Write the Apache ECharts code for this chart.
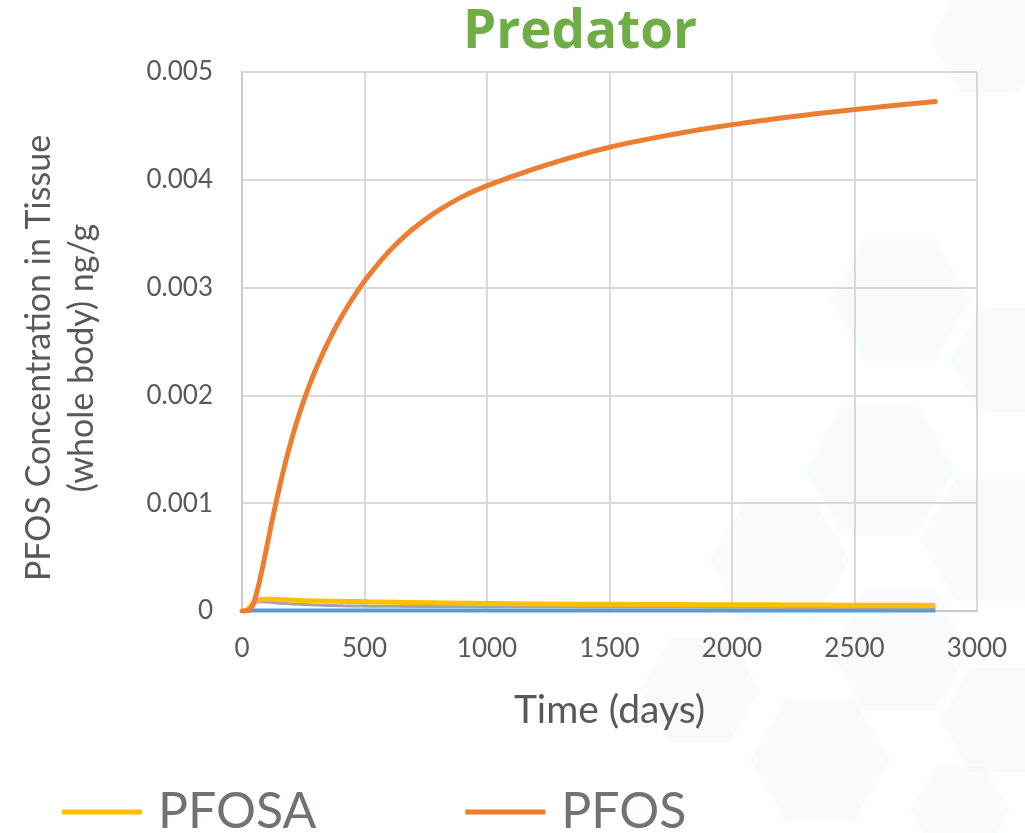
<!DOCTYPE html>
<html>
<head>
<meta charset="utf-8">
<script src="https://cdn.jsdelivr.net/npm/echarts@6/dist/echarts.min.js"></script>
<style>
html,body{margin:0;padding:0;background:#fff;}
#chart{width:1025px;height:833px;}
</style>
</head>
<body>
<div id="chart"></div>
<script>
// ---- data ----
const days = [0, 10, 20, 30, 40, 50, 60, 73, 90, 107, 120, 134, 155, 176, 196, 216, 236, 256, 283, 310, 344, 378, 411, 445, 481, 500, 520, 580, 637, 700, 794, 900, 1001, 1100, 1184, 1300, 1400, 1500, 1620, 1731, 1860, 2002, 2140, 2278, 2390, 2502, 2660, 2830];
const pfos = [0, 0, 0.000004, 0.000012, 0.000035, 0.00009, 0.00017, 0.00029, 0.00047, 0.00066, 0.000805, 0.000956, 0.00117, 0.001367, 0.001539, 0.001697, 0.001843, 0.001977, 0.002142, 0.00229, 0.00246, 0.002613, 0.002748, 0.002876, 0.003, 0.00306, 0.00312, 0.003285, 0.00342, 0.003548, 0.003705, 0.003844, 0.003946, 0.004029, 0.004095, 0.004178, 0.004243, 0.004302, 0.004361, 0.00441, 0.004462, 0.004512, 0.004555, 0.004595, 0.004625, 0.004652, 0.00469, 0.004727];
const pfosa = [0, 0.000002, 0.00001, 0.00003, 0.00006, 0.00008, 0.000095, 0.000105, 0.00011, 0.00011, 0.000109, 0.000108, 0.000106, 0.000104, 0.000102, 0.0001, 0.000098, 0.000096, 0.000094, 0.000093, 0.000091, 0.00009, 0.000089, 0.000088, 0.000087, 0.000086, 0.000085, 0.000083, 0.000081, 0.000079, 0.000076, 0.000073, 0.00007, 0.000068, 0.000066, 0.000064, 0.000063, 0.000062, 0.000061, 0.00006, 0.000059, 0.000058, 0.000057, 0.000056, 0.000055, 0.000054, 0.000053, 0.000052];
const other1 = [0, 0.000001, 0.000008, 0.000025, 0.00005, 0.00007, 0.00008, 0.000085, 0.000085, 0.000082, 0.00008, 0.000077, 0.000073, 0.00007, 0.000067, 0.000064, 0.000062, 0.00006, 0.000057, 0.000055, 0.000052, 0.00005, 0.000048, 0.000047, 0.000046, 0.0000455, 0.000045, 0.000044, 0.000043, 0.000042, 0.000041, 0.000041, 0.00004, 0.00004, 0.000039, 0.000039, 0.000038, 0.000038, 0.000037, 0.000037, 0.000036, 0.000035, 0.000034, 0.000033, 0.000032, 0.000032, 0.000031, 0.00003];
const other2 = [0, 0.000001, 0.000002, 0.000003, 0.000004, 0.000004, 0.000004, 0.000004, 0.000004, 0.000004, 0.000004, 0.000004, 0.000004, 0.000004, 0.000004, 0.000004, 0.000004, 0.000004, 0.000004, 0.000004, 0.000004, 0.000004, 0.000004, 0.000004, 0.000004, 0.000004, 0.000004, 0.000004, 0.000004, 0.000004, 0.000004, 0.000004, 0.000004, 0.000004, 0.000004, 0.000004, 0.000004, 0.000004, 0.000004, 0.000004, 0.000004, 0.000004, 0.000004, 0.000004, 0.000004, 0.000004, 0.000004, 0.000004];
const yTicks = ['0', '0.001', '0.002', '0.003', '0.004', '0.005'];
const xTicks = ['0', '500', '1000', '1500', '2000', '2500', '3000'];
const titleText = 'Predator';
const xName = 'Time (days)';
const yName = 'PFOS Concentration in Tissue\n(whole body) ng/g';

const pair = arr => days.map((d, i) => [d, arr[i]]);

// very faint hexagon decoration in background
function hex(cx, cy, r) {
  const pts = [];
  for (let k = 0; k < 6; k++) {
    const a = Math.PI / 3 * k;
    pts.push([cx + r * Math.cos(a), cy + r * Math.sin(a)]);
  }
  return {
    type: 'polygon', z: -10, silent: true,
    shape: { points: pts },
    style: { fill: 'rgba(238,240,247,0.35)' }
  };
}
const hexes = [
  hex(990, 40, 60), hex(900, 300, 70), hex(1010, 360, 60), hex(880, 470, 75),
  hex(990, 540, 70), hex(780, 560, 70), hex(900, 650, 70), hex(1000, 720, 60),
  hex(700, 690, 60), hex(820, 760, 70), hex(960, 810, 50)
];

const chart = echarts.init(document.getElementById('chart'));
chart.setOption({
  backgroundColor: '#ffffff',
  animation: false,
  title: {
    text: titleText,
    left: 575, top: 1, textAlign: 'center',
    textStyle: { fontFamily: 'Open Sans', fontWeight: 'bold', fontSize: 53, color: '#70AD47' }
  },
  grid: { left: 242, right: 48, top: 72, bottom: 222, containLabel: false },
  legend: {
    data: ['PFOSA', 'PFOS'],
    left: 57, top: 781,
    icon: 'rect', itemWidth: 80, itemHeight: 5, itemGap: 149,
    textStyle: { fontFamily: 'Lato', fontSize: 50, color: '#767171', lineHeight: 52, padding: [0, 0, 0, 11] }
  },
  xAxis: {
    type: 'value', min: 0, max: 3000, interval: 500,
    name: xName, nameLocation: 'middle', nameGap: 80,
    nameTextStyle: { fontFamily: 'Lato', fontSize: 39, color: '#595959' },
    axisLine: { show: true, lineStyle: { color: '#c8c8c8', width: 2 } },
    axisTick: { show: false },
    axisLabel: { margin: 25, fontFamily: 'Lato', fontSize: 26, color: '#595959', formatter: v => xTicks[Math.round(v / 500)] },
    splitLine: { show: true, lineStyle: { color: '#d9d9d9', width: 2 } }
  },
  yAxis: {
    type: 'value', min: 0, max: 0.005, interval: 0.001,
    axisLine: { show: true, lineStyle: { color: '#c8c8c8', width: 2 } },
    axisTick: { show: false },
    axisLabel: { margin: 29, fontFamily: 'Lato', fontSize: 26, color: '#595959', formatter: v => yTicks[Math.round(v / 0.001)] },
    splitLine: { show: true, lineStyle: { color: '#d9d9d9', width: 2 } }
  },
  graphic: hexes.concat([{
    type: 'text', x: 61, y: 358, rotation: Math.PI / 2,
    style: { text: yName, fontFamily: 'Lato', fontSize: 34, lineHeight: 43, fill: '#595959', align: 'center', verticalAlign: 'middle' }
  }]),
  series: [
    { name: 'Other2', type: 'line', data: pair(other2), showSymbol: false, symbol: 'none', smooth: 0.3,
      lineStyle: { color: '#5B9BD5', width: 4 }, itemStyle: { color: '#5B9BD5' } },
    { name: 'Other1', type: 'line', data: pair(other1), showSymbol: false, symbol: 'none', smooth: 0.3,
      lineStyle: { color: '#A5A5A5', width: 3 }, itemStyle: { color: '#A5A5A5' } },
    { name: 'PFOSA', type: 'line', data: pair(pfosa), showSymbol: false, symbol: 'none', smooth: 0.3,
      lineStyle: { color: '#FFC000', width: 5 }, itemStyle: { color: '#FFC000' } },
    { name: 'PFOS', type: 'line', data: pair(pfos), showSymbol: false, symbol: 'none', smooth: 0.3,
      lineStyle: { color: '#ED7D31', width: 5, cap: 'round' }, itemStyle: { color: '#ED7D31' } }
  ]
});
</script>
</body>
</html>
